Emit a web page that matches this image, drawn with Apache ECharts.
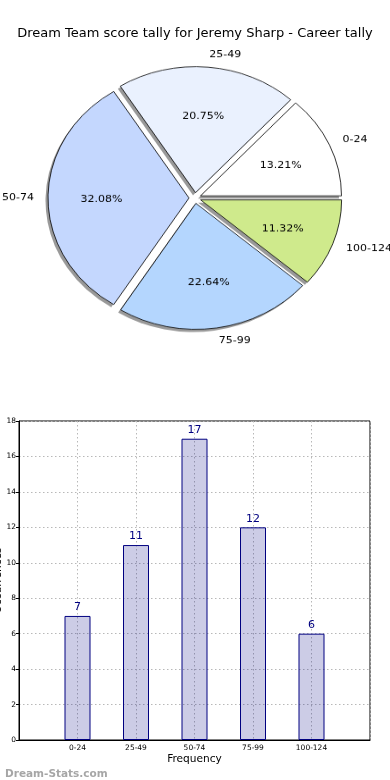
<!DOCTYPE html>
<html>
<head>
<meta charset="utf-8">
<script src="https://cdn.jsdelivr.net/npm/echarts@6/dist/echarts.min.js"></script>
<style>
html,body{margin:0;padding:0;background:#fff;}
#main{position:absolute;left:0;top:0;width:390px;height:780px;}
#pie{position:absolute;left:0;top:0;width:390px;height:450px;transform:scaleY(0.8936);transform-origin:0 0;}
</style>
</head>
<body>
<div id="main"></div>
<div id="pie"></div>
<script>
// ---- data ----
const titleText = 'Dream Team score tally for Jeremy Sharp - Career tally';
const categories = ['0-24', '25-49', '50-74', '75-99', '100-124'];
const counts = [7, 11, 17, 12, 6];
const yAxisName = 'Occurrences';
const xAxisName = 'Frequency';
const watermark = 'Dream-Stats.com';

// ---- styles ----
const sliceColors = ['#ffffff', '#eaf1fe', '#c4d7fe', '#b4d6fe', '#cfea8c'];
const FONT = 'DejaVu Sans';
const S = 0.8936;          // vertical squash of the pie (elliptical in reference)
const R = 141;             // horizontal radius
const CX = 195, CY = 198 / S;

const pieBase = {
  type: 'pie',
  radius: R,
  startAngle: 0,
  clockwise: false,
  selectedMode: 'multiple',
  selectedOffset: 6,
  avoidLabelOverlap: false,
  silent: true,
  emphasis: {disabled: true}
};

// ---------- pie ----------
const pie = echarts.init(document.getElementById('pie'), null, {renderer: 'canvas'});
pie.setOption({
  animation: false,
  backgroundColor: 'transparent',
  textStyle: {fontFamily: FONT},
  series: [
    Object.assign({}, pieBase, {
      // drop shadow
      center: [CX - 2.5, CY + 3],
      z: 1,
      data: categories.map((c, i) => ({name: c, value: counts[i], selected: true})),
      itemStyle: {color: 'rgba(0,0,0,0.4)', borderWidth: 0},
      label: {show: false},
      labelLine: {show: false}
    }),
    Object.assign({}, pieBase, {
      center: [CX, CY],
      z: 2,
      data: categories.map((c, i) => ({name: c, value: counts[i], selected: true,
        itemStyle: {color: sliceColors[i]}})),
      itemStyle: {borderColor: '#000', borderWidth: 0.8},
      label: {show: true, position: 'outside', formatter: '{b}', fontSize: 11,
        color: '#000', fontFamily: FONT, distanceToLabelLine: 0},
      labelLine: {show: false, length: R * 0.1, length2: 0}
    }),
    Object.assign({}, pieBase, {
      center: [CX, CY + 1.5 / S],
      radius: R * 1.2,
      z: 3,
      data: categories.map((c, i) => ({name: c, value: counts[i], selected: true})),
      itemStyle: {color: 'rgba(0,0,0,0)', borderWidth: 0},
      label: {show: true, position: 'inside', rotate: 0, formatter: '{d}%', fontSize: 11,
        color: '#000', fontFamily: FONT},
      labelLine: {show: false}
    })
  ]
});

// ---------- title + bar ----------
const main = echarts.init(document.getElementById('main'), null, {renderer: 'canvas'});
const gridStyle = {color: '#b8b8b8', width: 1, type: [1.5, 2.5]};
main.setOption({
  animation: false,
  backgroundColor: '#fff',
  textStyle: {fontFamily: FONT},
  title: [
    {text: titleText, left: 'center', top: 22,
      textStyle: {fontSize: 13, fontWeight: 'normal', color: '#000', fontFamily: FONT}},
    {text: watermark, left: 0, top: 764,
      textStyle: {fontSize: 10.5, fontWeight: 'bold', color: '#a6a6a6', fontFamily: FONT}}
  ],
  grid: {left: 19, right: 20, top: 421, bottom: 40, show: true, borderColor: '#000',
    borderWidth: 1, containLabel: false, outerBoundsMode: 'none'},
  xAxis: {
    type: 'category',
    data: [''].concat(categories, ['']),
    boundaryGap: false,
    axisLine: {show: true, lineStyle: {color: '#000', width: 1}},
    axisTick: {show: false},
    axisLabel: {fontSize: 7.5, color: '#000', margin: 4, interval: 0, fontFamily: FONT},
    splitLine: {show: true, lineStyle: gridStyle},
    name: xAxisName, nameLocation: 'middle', nameGap: 14, nameMoveOverlap: false,
    nameTextStyle: {fontSize: 10.6, color: '#000', fontFamily: FONT}
  },
  yAxis: {
    type: 'value', min: 0, max: 18, interval: 2,
    axisLine: {show: true, lineStyle: {color: '#000', width: 1}},
    axisTick: {show: true, length: 3, lineStyle: {color: '#000'}},
    axisLabel: {fontSize: 7.5, color: '#000', margin: 3, fontFamily: FONT},
    splitLine: {show: true, lineStyle: gridStyle},
    name: yAxisName, nameLocation: 'middle', nameGap: 15, nameMoveOverlap: false,
    nameTextStyle: {fontSize: 10.6, color: '#000', fontFamily: FONT}
  },
  series: [{
    type: 'bar',
    data: categories.map((c, i) => [c, counts[i]]),
    barWidth: 26,
    itemStyle: {color: 'rgba(0,0,128,0.2)', borderColor: '#000080', borderWidth: 1},
    label: {show: true, position: 'top', distance: 3, fontSize: 11, color: '#000080', fontFamily: FONT},
    emphasis: {disabled: true}
  }]
});
</script>
</body>
</html>
